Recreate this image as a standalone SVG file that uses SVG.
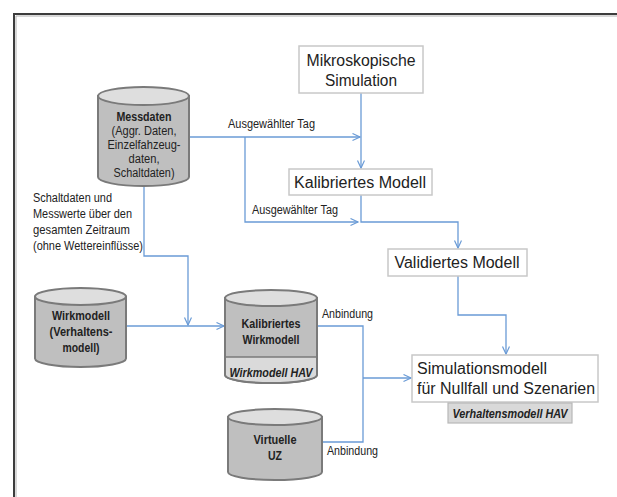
<svg xmlns="http://www.w3.org/2000/svg" width="617" height="497" viewBox="0 0 617 497">
<defs>
<marker id="arr" markerWidth="10" markerHeight="10" refX="8" refY="4" orient="auto" markerUnits="userSpaceOnUse">
<path d="M0.5,0.5 L8,4 L0.5,7.5" fill="none" stroke="#6a9bd6" stroke-width="1.2"/>
</marker>
</defs>
<style>
.frame{fill:none;stroke:#3c3c3c;stroke-width:2}
.frame2{fill:none;stroke:#b0b0b0;stroke-width:1}
.box{fill:#ffffff;stroke:#c8c8c8;stroke-width:1.5}
.tag{fill:#d9d9d9;stroke:#b8b8b8;stroke-width:1.2}
.cylbody{fill:#bfbfbf;stroke:#7a7a7a;stroke-width:2}
.cyltop{fill:#dedede;stroke:#7a7a7a;stroke-width:2}
.cyllow{fill:#dadada;stroke:none}
.con{fill:none;stroke:#6a9bd6;stroke-width:1.3}
.t{font-family:"Liberation Sans",Arial,sans-serif;fill:#222222}
.big{font-size:16px}
.sm{font-size:12.5px}
.b{font-weight:bold}
.bi{font-weight:bold;font-style:italic}
.mid{text-anchor:middle}
</style>
<path class="frame2" d="M16,497 V16 H617"/>
<path class="frame" d="M14,497 V14 H617"/>

<g id="connectors">
<path class="con" d="M189,137 H360" marker-end="url(#arr)"/>
<path class="con" d="M245,137 V222 H358" marker-end="url(#arr)"/>
<path class="con" d="M361,93 V168" marker-end="url(#arr)"/>
<path class="con" d="M361,195 V222 H458 V248" marker-end="url(#arr)"/>
<path class="con" d="M458,276 V315 H506 V354" marker-end="url(#arr)"/>
<path class="con" d="M144,186 V256 H188 V325" marker-end="url(#arr)"/>
<path class="con" d="M126,326 H224" marker-end="url(#arr)"/>
<path class="con" d="M317,326 H363 V442 H322"/>
<path class="con" d="M363,378 H411" marker-end="url(#arr)"/>
<text class="t sm" x="228" y="128" textLength="87" lengthAdjust="spacingAndGlyphs">Ausgewählter Tag</text>
<text class="t sm" x="252" y="214" textLength="86" lengthAdjust="spacingAndGlyphs">Ausgewählter Tag</text>
<text class="t sm" x="33" y="202" textLength="79" lengthAdjust="spacingAndGlyphs">Schaltdaten und</text>
<text class="t sm" x="33" y="218" textLength="99" lengthAdjust="spacingAndGlyphs">Messwerte über den</text>
<text class="t sm" x="33" y="234" textLength="97" lengthAdjust="spacingAndGlyphs">gesamten Zeitraum</text>
<text class="t sm" x="33" y="250" textLength="110" lengthAdjust="spacingAndGlyphs">(ohne Wettereinflüsse)</text>
<text class="t sm" x="322" y="318" textLength="51" lengthAdjust="spacingAndGlyphs">Anbindung</text>
<text class="t sm" x="327" y="455" textLength="51" lengthAdjust="spacingAndGlyphs">Anbindung</text>
</g>

<g id="mikroskopische">
<rect class="box" x="299" y="46" width="124" height="47"/>
<text class="t big mid" x="361" y="66" textLength="109" lengthAdjust="spacingAndGlyphs">Mikroskopische</text>
<text class="t big mid" x="361" y="86" textLength="72" lengthAdjust="spacingAndGlyphs">Simulation</text>
</g>

<g id="kalibriertes-modell">
<rect class="box" x="289" y="169" width="143" height="26"/>
<text class="t big mid" x="360" y="188" textLength="132" lengthAdjust="spacingAndGlyphs">Kalibriertes Modell</text>
</g>

<g id="validiertes-modell">
<rect class="box" x="388" y="249" width="139" height="27"/>
<text class="t big mid" x="457" y="268" textLength="125" lengthAdjust="spacingAndGlyphs">Validiertes Modell</text>
</g>

<g id="simulationsmodell">
<rect class="box" x="412" y="355" width="186" height="47"/>
<text class="t big" x="417" y="374" textLength="130" lengthAdjust="spacingAndGlyphs">Simulationsmodell</text>
<text class="t big" x="417" y="394" textLength="178" lengthAdjust="spacingAndGlyphs">für Nullfall und Szenarien</text>
<rect class="tag" x="448" y="403" width="124" height="20"/>
<text class="t sm bi mid" x="510" y="418" textLength="115" lengthAdjust="spacingAndGlyphs">Verhaltensmodell HAV</text>
</g>

<g id="messdaten">
<path class="cylbody" d="M98,96 V177 A45.5,9 0 0 0 189,177 V96 Z"/>
<ellipse class="cyltop" cx="143.5" cy="96" rx="45.5" ry="9"/>
<text class="t sm b mid" x="144" y="121" textLength="55" lengthAdjust="spacingAndGlyphs">Messdaten</text>
<text class="t sm mid" x="144" y="135" textLength="65" lengthAdjust="spacingAndGlyphs">(Aggr. Daten,</text>
<text class="t sm mid" x="144" y="149" textLength="73" lengthAdjust="spacingAndGlyphs">Einzelfahzeug-</text>
<text class="t sm mid" x="144" y="163" textLength="31" lengthAdjust="spacingAndGlyphs">daten,</text>
<text class="t sm mid" x="144" y="177" textLength="61" lengthAdjust="spacingAndGlyphs">Schaltdaten)</text>
</g>

<g id="wirkmodell">
<path class="cylbody" d="M35,296.5 V358.5 A45.5,8.5 0 0 0 126,358.5 V296.5 Z"/>
<ellipse class="cyltop" cx="80.5" cy="296.5" rx="45.5" ry="8.5"/>
<text class="t sm b mid" x="81" y="320" textLength="58" lengthAdjust="spacingAndGlyphs">Wirkmodell</text>
<text class="t sm b mid" x="81" y="336" textLength="63" lengthAdjust="spacingAndGlyphs">(Verhaltens-</text>
<text class="t sm b mid" x="81" y="352" textLength="37" lengthAdjust="spacingAndGlyphs">modell)</text>
</g>

<g id="kalibriertes-wirkmodell">
<path class="cylbody" d="M225,298 V375 A46,8 0 0 0 317,375 V298 Z"/>
<path class="cyllow" d="M226,357 H316 V375 A45,7.5 0 0 1 226,375 Z"/>
<path d="M225,357 H317" fill="none" stroke="#7a7a7a" stroke-width="1.5"/>
<path d="M225,298 V375 A46,8 0 0 0 317,375 V298" fill="none" stroke="#7a7a7a" stroke-width="2"/>
<ellipse class="cyltop" cx="271" cy="298" rx="46" ry="8"/>
<text class="t sm b mid" x="271" y="328" textLength="59" lengthAdjust="spacingAndGlyphs">Kalibriertes</text>
<text class="t sm b mid" x="271" y="344" textLength="57" lengthAdjust="spacingAndGlyphs">Wirkmodell</text>
<text class="t sm bi mid" x="271" y="377" textLength="83" lengthAdjust="spacingAndGlyphs">Wirkmodell HAV</text>
</g>

<g id="virtuelle-uz">
<path class="cylbody" d="M228,417 V472 A47,8 0 0 0 322,472 V417 Z"/>
<ellipse class="cyltop" cx="275" cy="417" rx="47" ry="8"/>
<text class="t sm b mid" x="275" y="444" textLength="43" lengthAdjust="spacingAndGlyphs">Virtuelle</text>
<text class="t sm b mid" x="275" y="460" textLength="14" lengthAdjust="spacingAndGlyphs">UZ</text>
</g>
</svg>
